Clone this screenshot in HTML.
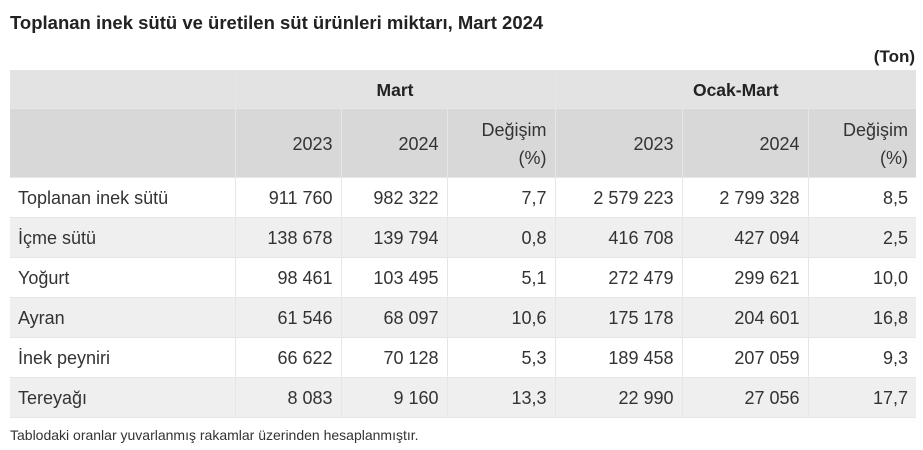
<!DOCTYPE html>
<html><head><meta charset="utf-8"><style>
body{margin:0;width:923px;height:450px;background:#fff;font-family:"Liberation Sans",sans-serif;color:#333;position:relative;overflow:hidden}
.title{position:absolute;left:10px;top:12px;font-size:18.5px;font-weight:bold;color:#222}
.ton{position:absolute;right:8px;top:47px;font-size:17px;font-weight:bold;color:#222}
table{position:absolute;left:10px;top:70px;border-collapse:collapse;table-layout:fixed;width:906px;font-size:18px}
td{padding:2px 8px 0 8px;text-align:right;border-right:1px solid #e6e6e6;border-bottom:1px solid #e6e6e6;height:37px;white-space:nowrap}
td:last-child{border-right:none}
td.l{text-align:left}
tr.h1 td{background:#e3e3e3;font-weight:bold;text-align:center;color:#222;height:36px;font-size:17.5px}
tr.h2 td{background:#d8d8d8;height:66px;line-height:28px}
tr.g td{background:#efefef}
.foot{position:absolute;left:10px;top:427px;font-size:14px;color:#333}
</style></head><body>
<div class="title">Toplanan inek sütü ve üretilen süt ürünleri miktarı, Mart 2024</div>
<div class="ton">(Ton)</div>
<table>
<colgroup><col style="width:225px"><col style="width:106px"><col style="width:106px"><col style="width:108px"><col style="width:127px"><col style="width:126px"><col style="width:108px"></colgroup>
<tr class="h1"><td></td><td colspan="3">Mart</td><td colspan="3">Ocak-Mart</td></tr>
<tr class="h2"><td></td><td>2023</td><td>2024</td><td>Değişim<br>(%)</td><td>2023</td><td>2024</td><td>Değişim<br>(%)</td></tr>
<tr><td class="l">Toplanan inek sütü</td><td>911 760</td><td>982 322</td><td>7,7</td><td>2 579 223</td><td>2 799 328</td><td>8,5</td></tr>
<tr class="g"><td class="l">İçme sütü</td><td>138 678</td><td>139 794</td><td>0,8</td><td>416 708</td><td>427 094</td><td>2,5</td></tr>
<tr><td class="l">Yoğurt</td><td>98 461</td><td>103 495</td><td>5,1</td><td>272 479</td><td>299 621</td><td>10,0</td></tr>
<tr class="g"><td class="l">Ayran</td><td>61 546</td><td>68 097</td><td>10,6</td><td>175 178</td><td>204 601</td><td>16,8</td></tr>
<tr><td class="l">İnek peyniri</td><td>66 622</td><td>70 128</td><td>5,3</td><td>189 458</td><td>207 059</td><td>9,3</td></tr>
<tr class="g"><td class="l">Tereyağı</td><td>8 083</td><td>9 160</td><td>13,3</td><td>22 990</td><td>27 056</td><td>17,7</td></tr>
</table>
<div class="foot">Tablodaki oranlar yuvarlanmış rakamlar üzerinden hesaplanmıştır.</div>
</body></html>
